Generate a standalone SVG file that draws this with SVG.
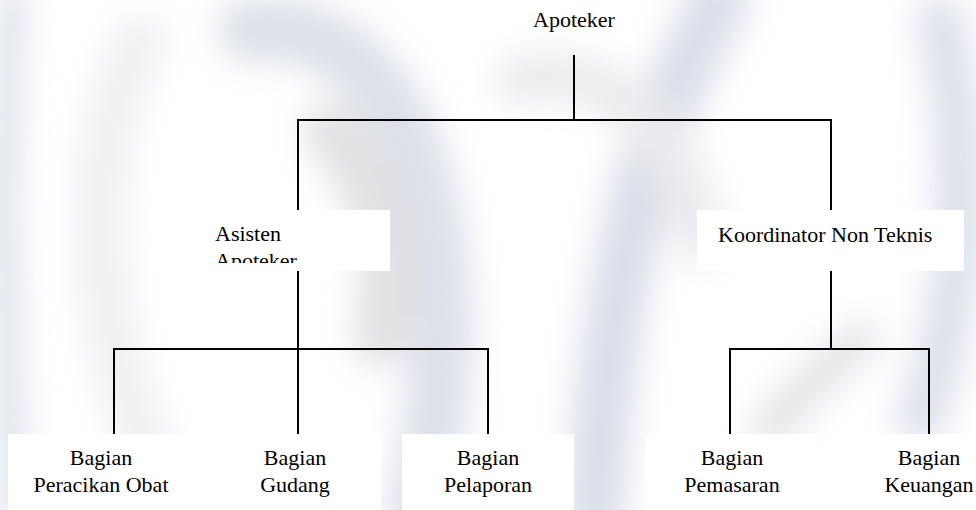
<svg xmlns="http://www.w3.org/2000/svg" width="976" height="510" viewBox="0 0 976 510">
<defs>
<filter id="blur" x="-30%" y="-30%" width="160%" height="160%"><feGaussianBlur stdDeviation="16"/></filter>
<clipPath id="clipAsisten"><rect x="193" y="210" width="197" height="53"/></clipPath>
<style>
.box{fill:#ffffff;stroke:none}
.t{font-family:'Liberation Serif','Times New Roman',serif;font-size:22px;fill:#000}
.c{text-anchor:middle}
.ln{stroke:#000;stroke-width:2;fill:none;stroke-linecap:square}
.wm{fill:none;stroke-linecap:round}
</style>
</defs>
<rect width="976" height="510" fill="#ffffff"/>
<g id="watermark" filter="url(#blur)" opacity="0.65">
<path class="wm" d="M12 0 C 0 150, 5 350, 15 510" stroke="#c3cbdc" stroke-width="26"/>
<path class="wm" d="M140 40 C 80 160, 90 330, 160 480" stroke="#e6e7ec" stroke-width="50"/>
<path class="wm" d="M250 30 C 360 20, 430 120, 440 300 C 445 380, 430 440, 420 510" stroke="#c9d0de" stroke-width="65"/>
<path class="wm" d="M330 130 C 380 190, 395 260, 380 340" stroke="#d2d2d4" stroke-width="55"/>
<path class="wm" d="M720 0 C 650 120, 610 260, 595 510" stroke="#c5ccdc" stroke-width="60"/>
<path class="wm" d="M520 80 C 600 60, 680 120, 700 240" stroke="#e0e1e6" stroke-width="50"/>
<path class="wm" d="M940 20 C 970 150, 965 300, 920 420" stroke="#cad1e0" stroke-width="50"/>
<path class="wm" d="M770 430 C 800 390, 830 370, 860 340" stroke="#d6d8dc" stroke-width="40"/>
</g>
<g id="connectors">
<line class="ln" x1="574" y1="56" x2="574" y2="120"/>
<line class="ln" x1="298" y1="120" x2="831" y2="120"/>
<line class="ln" x1="298" y1="120" x2="298" y2="210"/>
<line class="ln" x1="831" y1="120" x2="831" y2="210"/>
<line class="ln" x1="298" y1="271" x2="298" y2="434"/>
<line class="ln" x1="114" y1="349" x2="488" y2="349"/>
<line class="ln" x1="114" y1="349" x2="114" y2="434"/>
<line class="ln" x1="488" y1="349" x2="488" y2="434"/>
<line class="ln" x1="831" y1="271" x2="831" y2="349"/>
<line class="ln" x1="730" y1="349" x2="929" y2="349"/>
<line class="ln" x1="730" y1="349" x2="730" y2="434"/>
<line class="ln" x1="929" y1="349" x2="929" y2="434"/>
</g>
<g id="apoteker">
<text class="t c" x="574" y="27">Apoteker</text>
</g>
<g id="asisten-apoteker">
<rect class="box" x="193" y="210" width="197" height="61"/>
<g clip-path="url(#clipAsisten)">
<text class="t" x="215" y="241">Asisten</text>
<text class="t" x="215" y="268">Apoteker</text>
</g>
</g>
<g id="koordinator-non-teknis">
<rect class="box" x="697" y="210" width="267" height="61"/>
<text class="t" x="718" y="242">Koordinator Non Teknis</text>
</g>
<g id="bagian-peracikan-obat">
<rect class="box" x="8" y="434" width="198" height="76"/>
<text class="t c" x="101" y="465">Bagian</text>
<text class="t c" x="101" y="492">Peracikan Obat</text>
</g>
<g id="bagian-gudang">
<rect class="box" x="205" y="434" width="176" height="76"/>
<text class="t c" x="295" y="465">Bagian</text>
<text class="t c" x="295" y="492">Gudang</text>
</g>
<g id="bagian-pelaporan">
<rect class="box" x="402" y="434" width="172" height="76"/>
<text class="t c" x="488" y="465">Bagian</text>
<text class="t c" x="488" y="492">Pelaporan</text>
</g>
<g id="bagian-pemasaran">
<rect class="box" x="646" y="434" width="172" height="76"/>
<text class="t c" x="732" y="465">Bagian</text>
<text class="t c" x="732" y="492">Pemasaran</text>
</g>
<g id="bagian-keuangan">
<rect class="box" x="842" y="434" width="134" height="76"/>
<text class="t c" x="929" y="465">Bagian</text>
<text class="t c" x="929" y="492">Keuangan</text>
</g>
</svg>
